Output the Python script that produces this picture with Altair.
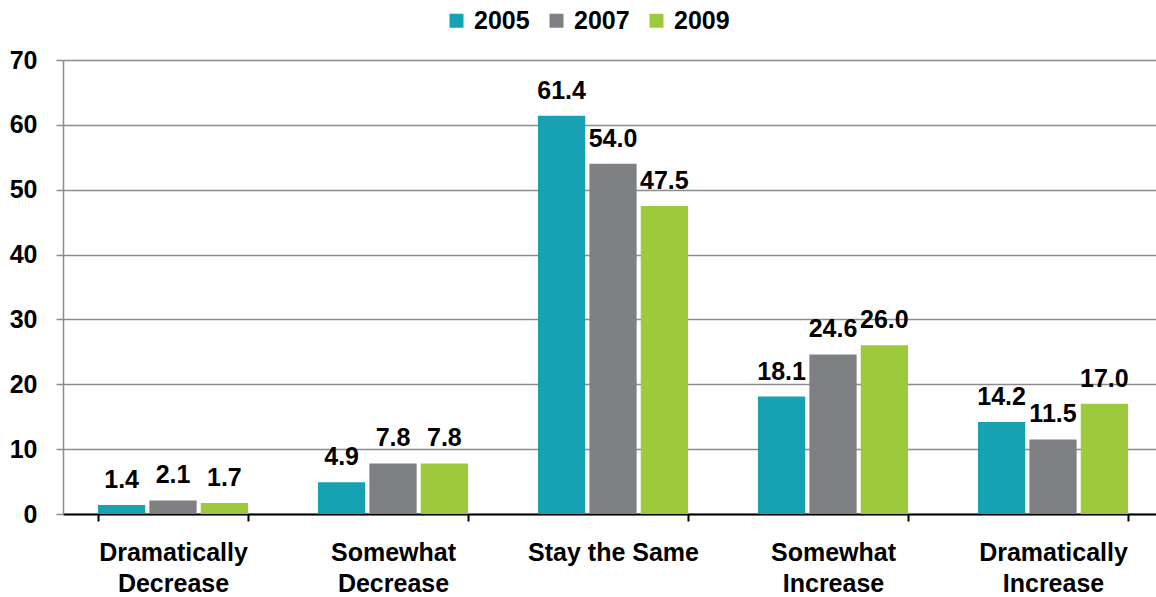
import altair as alt
import pandas as pd

categories = [
    "Dramatically Decrease",
    "Somewhat Decrease",
    "Stay the Same",
    "Somewhat Increase",
    "Dramatically Increase",
]
years = ["2005", "2007", "2009"]
values_2005 = [1.4, 4.9, 61.4, 18.1, 14.2]
values_2007 = [2.1, 7.8, 54.0, 24.6, 11.5]
values_2009 = [1.7, 7.8, 47.5, 26.0, 17.0]
year_colors = ["#17A2B3", "#7F8084", "#9DCA3C"]
y_ticks = [0, 10, 20, 30, 40, 50, 60, 70]

rows = []
for year, vals in zip(years, [values_2005, values_2007, values_2009]):
    for cat, val in zip(categories, vals):
        rows.append({"category": cat, "year": year, "value": val})
df = pd.DataFrame(rows)

FONT = "Liberation Sans"
GRID = "#8C8C8C"
FS = 25

x_enc = alt.X(
    "category:N",
    sort=categories,
    title=None,
    scale=alt.Scale(paddingInner=0.318, paddingOuter=0.159, range=[0, 1100]),
    axis=alt.Axis(
        labelAngle=0,
        labelFont=FONT,
        labelFontSize=FS,
        labelFontWeight="bold",
        labelColor="black",
        labelPadding=19,
        labelLineHeight=31,
        labelLimit=0,
        labelExpr="datum.label == 'Stay the Same' ? datum.label : split(datum.label, ' ')",
        domainColor="black",
        domainWidth=2,
        tickColor="black",
        tickWidth=2,
        tickSize=7,
        tickBand="extent",
        grid=False,
    ),
)
xoff_enc = alt.XOffset("year:N", sort=years, scale=alt.Scale(paddingInner=0.08))
y_enc = alt.Y(
    "value:Q",
    title=None,
    scale=alt.Scale(domain=[0, 70], nice=False),
    axis=alt.Axis(
        values=y_ticks,
        grid=True,
        gridColor=GRID,
        gridWidth=1.5,
        domainColor=GRID,
        domainWidth=1.5,
        tickColor=GRID,
        tickWidth=1.5,
        tickSize=7,
        labelFont=FONT,
        labelFontSize=FS,
        labelFontWeight="bold",
        labelColor="black",
        labelPadding=19,
    ),
)

bars = alt.Chart(df).mark_bar().encode(
    x=x_enc,
    xOffset=xoff_enc,
    y=y_enc,
    color=alt.Color(
        "year:N",
        sort=years,
        scale=alt.Scale(domain=years, range=year_colors),
        legend=alt.Legend(
            title=None,
            orient="none",
            legendX=381,
            legendY=-52,
            direction="horizontal",
            symbolType="square",
            symbolSize=196,
            symbolStrokeWidth=0,
            labelFont=FONT,
            labelFontSize=FS,
            labelFontWeight="bold",
            labelColor="black",
            labelOffset=5,
            columnPadding=14,
        ),
    ),
)

labels = alt.Chart(df).mark_text(
    font=FONT,
    fontSize=FS,
    fontWeight="bold",
    color="black",
    baseline="alphabetic",
    dy=-17,
).encode(
    x=alt.X("category:N", sort=categories),
    xOffset=alt.XOffset("year:N", sort=years),
    y=alt.Y("value:Q"),
    text=alt.Text("value:Q", format=".1f"),
)

chart = (
    alt.layer(bars, labels)
    .properties(
        width=1093,
        height=454,
        autosize=alt.AutoSizeParams(type="none"),
        padding={"left": 63, "top": 60, "right": 0, "bottom": 83},
        background="white",
    )
    .configure_view(stroke=None)
)

chart.save("out.html", embed_options={"renderer": "svg", "actions": False})
